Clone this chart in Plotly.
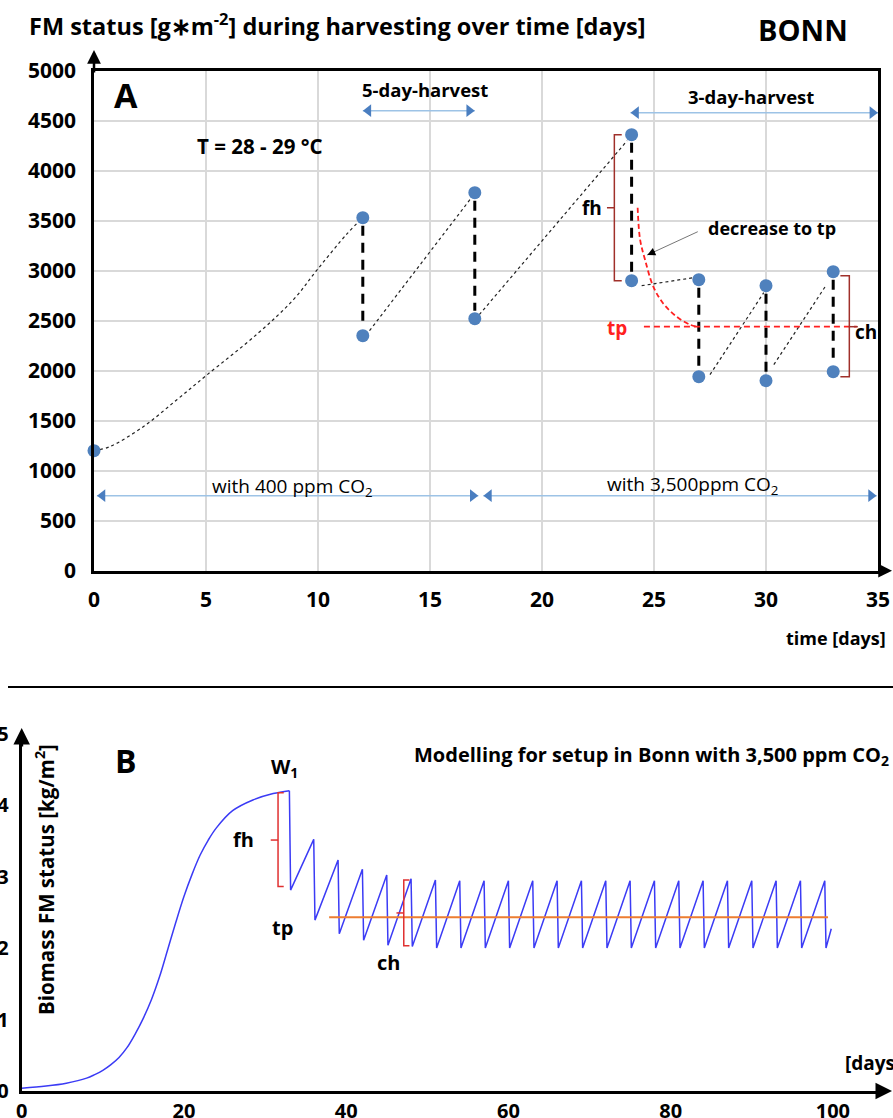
import plotly.graph_objects as go

W, H = 893, 1118


def px(x):
    return x / W


def py(y):
    return 1 - y / H


FONT = "Open Sans"

# ---------------- Panel A data (measured FM status, g/m2) ----------------
a_start_day = [0]
a_start_val = [1200]
harvest_days_a = [12, 17, 24, 27, 30, 33]
before_harvest_a = [3530, 3780, 4360, 2910, 2850, 2990]
after_harvest_a = [2350, 2520, 2900, 1940, 1900, 1990]
growth_days_a = [0, 0.7, 2.2, 3.7, 5.0, 7.3, 8.9, 10.0, 11.3, 12]
growth_vals_a = [1200, 1240, 1440, 1710, 1950, 2370, 2710, 3020, 3370, 3530]
regrow_start_day_a = [12.3, 17.2, 24.45, 27.5, 30.35]
regrow_start_val_a = [2400, 2560, 2850, 1960, 2060]
regrow_end_day_a = [16.85, 23.8, 26.75, 29.9, 32.7]
regrow_end_val_a = [3730, 4300, 2930, 2780, 2860]
tp_curve_days = [24.27, 24.38, 24.6, 24.97, 25.42, 26.01, 26.61, 26.9]
tp_curve_vals = [3630, 3310, 3110, 2840, 2670, 2540, 2460, 2440]
tp_level_a = 2440
tp_line_days = [24.55, 34.05]
# period arrows (start day, end day, level)
five_day_span = [12, 17]
three_day_span = [23.95, 35]
harvest_arrow_level = [4600, 4580]
co2_400_span = [0.13, 17.16]
co2_3500_span = [17.38, 34.94]
co2_arrow_level = 750

# ---------------- Panel B data (model, kg/m2) ----------------
growth_days_b = [0, 3, 5.5, 8, 9, 10, 11, 12, 13, 14, 15, 16, 17, 18, 19, 20, 21, 22, 23,
                 24, 26, 28.5, 31, 33]
growth_vals_b = [0.04, 0.07, 0.11, 0.18, 0.23, 0.29, 0.37, 0.47, 0.61, 0.80, 1.02, 1.28,
                 1.60, 1.98, 2.36, 2.72, 3.03, 3.30, 3.51, 3.68, 3.92, 4.07, 4.16, 4.20]
harvest_days_b = [33, 36, 39, 42, 45, 48, 51, 54, 57, 60, 63, 66, 69, 72, 75, 78,
                  81, 84, 87, 90, 93, 96, 99]
peak_vals_b = [4.20, 3.52, 3.23, 3.10, 3.02, 2.97, 2.95, 2.94, 2.94, 2.94, 2.94, 2.94,
               2.94, 2.94, 2.94, 2.94, 2.94, 2.94, 2.94, 2.94, 2.94, 2.94, 2.94]
trough_vals_b = [2.81, 2.39, 2.20, 2.11, 2.04, 2.02, 2.00, 2.00, 2.00, 2.00, 2.00, 2.00,
                 2.00, 2.00, 2.00, 2.00, 2.00, 2.00, 2.00, 2.00, 2.00, 2.00, 2.00]
end_day_b = 99.8
end_val_b = 2.27
tp_level_b = 2.43
tp_days_b = [37.9, 99.4]
fh_bracket_b = [31.6, 4.17, 2.86, 3.51]   # day, top, bottom, middle
ch_bracket_b = [47.1, 2.95, 2.03, 2.49]

fig = go.Figure()

# ---------- Panel A traces ----------
BLACK_DOT = dict(color="#222222", width=1.2, dash="dot")
fig.add_trace(go.Scatter(x=growth_days_a, y=growth_vals_a, mode="lines",
                         line=dict(shape="spline", **BLACK_DOT), xaxis="x", yaxis="y"))
for x0, y0, x1, y1 in zip(regrow_start_day_a, regrow_start_val_a, regrow_end_day_a, regrow_end_val_a):
    fig.add_trace(go.Scatter(x=[x0, x1], y=[y0, y1], mode="lines", line=BLACK_DOT,
                             xaxis="x", yaxis="y"))
for d, b, a in zip(harvest_days_a, before_harvest_a, after_harvest_a):
    fig.add_trace(go.Scatter(x=[d, d], y=[b - 80, a + 80], mode="lines",
                             line=dict(color="black", width=3, dash="10px,7px"),
                             xaxis="x", yaxis="y"))
# red tp curve
fig.add_trace(go.Scatter(x=tp_curve_days, y=tp_curve_vals, mode="lines",
                         line=dict(color="#FF2020", width=1.8, dash="5px,3px", shape="spline"),
                         xaxis="x", yaxis="y"))
fig.add_trace(go.Scatter(x=tp_line_days, y=[tp_level_a, tp_level_a], mode="lines",
                         line=dict(color="#FF2020", width=1.8, dash="6px,4px"),
                         xaxis="x", yaxis="y"))
# points
pts_x = a_start_day + harvest_days_a + harvest_days_a
pts_y = a_start_val + before_harvest_a + after_harvest_a
fig.add_trace(go.Scatter(x=pts_x, y=pts_y, mode="markers",
                         marker=dict(color="#4F81BD", size=13), xaxis="x", yaxis="y",
                         cliponaxis=False))

# blue double arrows
ARROW_LINE = "#9DC3E6"
ARROW_HEAD = "#4A7EC0"


def double_arrow(span, level, inset):
    fig.add_trace(go.Scatter(x=span, y=[level, level], mode="lines",
                             line=dict(color=ARROW_LINE, width=1.5), xaxis="x", yaxis="y",
                             cliponaxis=False))
    fig.add_trace(go.Scatter(x=[span[0] + inset, span[1] - inset], y=[level, level], mode="markers",
                             marker=dict(color=ARROW_HEAD, size=11,
                                         symbol=["triangle-left", "triangle-right"]),
                             xaxis="x", yaxis="y", cliponaxis=False))


double_arrow(five_day_span, harvest_arrow_level[0], 0.25)
double_arrow(three_day_span, harvest_arrow_level[1], 0.25)
double_arrow(co2_400_span, co2_arrow_level, 0.25)
double_arrow(co2_3500_span, co2_arrow_level, 0.25)

# brackets A (dark red)
BR = dict(color="#A0302A", width=1.5)
d_fh = 23.23
fig.add_trace(go.Scatter(x=[d_fh + 0.33, d_fh, d_fh, d_fh + 0.33],
                         y=[before_harvest_a[2], before_harvest_a[2], after_harvest_a[2], after_harvest_a[2]],
                         mode="lines", line=BR, xaxis="x", yaxis="y"))
mid_fh = (before_harvest_a[2] + after_harvest_a[2]) / 2
fig.add_trace(go.Scatter(x=[d_fh - 0.33, d_fh], y=[mid_fh, mid_fh], mode="lines", line=BR,
                         xaxis="x", yaxis="y"))
d_ch = 33.72
fig.add_trace(go.Scatter(x=[d_ch - 0.4, d_ch, d_ch, d_ch - 0.4],
                         y=[2950, 2950, 1940, 1940], mode="lines", line=BR,
                         xaxis="x", yaxis="y", cliponaxis=False))
fig.add_trace(go.Scatter(x=[d_ch, d_ch + 0.38], y=[tp_level_a, tp_level_a], mode="lines", line=BR,
                         xaxis="x", yaxis="y", cliponaxis=False))

# ---------- Panel B traces ----------
BLUE = "#3B3BF5"
fig.add_trace(go.Scatter(x=growth_days_b, y=growth_vals_b, mode="lines",
                         line=dict(color=BLUE, width=1.5, shape="spline", smoothing=1.0),
                         xaxis="x2", yaxis="y2"))
saw_x, saw_y = [], []
for d, pk, tr in zip(harvest_days_b, peak_vals_b, trough_vals_b):
    saw_x += [d, d + 0.15]
    saw_y += [pk, tr]
saw_x.append(end_day_b)
saw_y.append(end_val_b)
fig.add_trace(go.Scatter(x=saw_x, y=saw_y, mode="lines", line=dict(color=BLUE, width=1.5),
                         xaxis="x2", yaxis="y2"))
fig.add_trace(go.Scatter(x=tp_days_b, y=[tp_level_b, tp_level_b], mode="lines",
                         line=dict(color="#ED7D31", width=2), xaxis="x2", yaxis="y2"))

BRB = dict(color="#E03030", width=1.5)
for dd, top, bot, mid in [fh_bracket_b, ch_bracket_b]:
    fig.add_trace(go.Scatter(x=[dd + 0.7, dd, dd, dd + 0.7], y=[top, top, bot, bot], mode="lines",
                             line=BRB, xaxis="x2", yaxis="y2"))
    fig.add_trace(go.Scatter(x=[dd - 0.9, dd], y=[mid, mid], mode="lines", line=BRB,
                             xaxis="x2", yaxis="y2"))

# ---------- Layout ----------
tickA = dict(family=FONT, size=21, color="black", weight="bold")
tickB = dict(family=FONT, size=20, color="black", weight="bold")
fig.update_layout(
    width=W, height=H, autosize=False, showlegend=False,
    margin=dict(l=0, r=0, t=0, b=0, pad=0),
    paper_bgcolor="white", plot_bgcolor="white",
    font=dict(family=FONT, color="black"),
    xaxis=dict(domain=[px(94), px(878)], range=[0, 35], tickvals=[0, 5, 10, 15, 20, 25, 30, 35],
               showgrid=True, gridcolor="#D9D9D9", gridwidth=1.5, zeroline=False,
               showline=True, linecolor="black", linewidth=2.5, mirror=True, automargin=False,
               ticks="", tickfont=tickA, ticklabelstandoff=8, anchor="y"),
    yaxis=dict(domain=[py(570.7), py(70.7)], range=[0, 5000], tickvals=list(range(0, 5001, 500)),
               showgrid=True, gridcolor="#D9D9D9", gridwidth=1.5, zeroline=False,
               showline=True, linecolor="black", linewidth=2.5, mirror=True, automargin=False,
               ticks="", tickfont=tickA, ticklabelstandoff=11, anchor="x"),
    xaxis2=dict(domain=[px(21.7), px(884)], range=[0, 106.3], tickvals=[0, 20, 40, 60, 80, 100],
                showgrid=False, zeroline=False, showline=True, linecolor="black", linewidth=3,
                automargin=False, ticks="", tickfont=tickB, ticklabelstandoff=0, anchor="y2"),
    yaxis2=dict(domain=[py(1091), py(733.5)], range=[0, 5], tickvals=[0, 1, 2, 3, 4, 5],
                showgrid=False, zeroline=False, showline=True, linecolor="black", linewidth=3,
                automargin=False, ticks="", tickfont=tickB, ticklabelstandoff=6, anchor="x2"),
)

ann = []


def text(x, y, s, size=18, bold=True, color="black", xanchor="center", angle=0):
    ann.append(dict(x=px(x), y=py(y), xref="paper", yref="paper", text=s, showarrow=False,
                    xanchor=xanchor, yanchor="middle", textangle=angle,
                    font=dict(family=FONT, size=size, color=color,
                              weight="bold" if bold else "normal")))


def axis_arrow(x, y, dx, dy, width=2.5):
    ann.append(dict(x=px(x), y=py(y), xref="paper", yref="paper", text="", showarrow=True,
                    ax=dx, ay=dy, axref="pixel", ayref="pixel", arrowhead=2, arrowsize=1.1,
                    arrowwidth=width, arrowcolor="black"))


# Panel A texts
text(27, 24, "FM status [g\u2217m<sup>-2</sup>] during harvesting over time [days]", size=23.5,
     xanchor="left")
text(803, 30, "BONN", size=29)
text(126, 95, "A", size=34)
text(425, 90, "5-day-harvest", size=18.5)
text(751, 97, "3-day-harvest", size=18.5)
text(260, 146, "T = 28 - 29 °C", size=20.5)
text(592, 208, "fh", size=19)
text(772, 228, "decrease to tp", size=18)
text(617, 328, "tp", size=19, color="#FF2020")
text(866, 332, "ch", size=19)
text(292, 487, "with 400 ppm CO<sub>2</sub>", size=19, bold=False)
text(692, 485, "with 3,500ppm CO<sub>2</sub>", size=19, bold=False)
text(888, 638, "time [days]", size=18, xanchor="right")
# "decrease to tp" pointer: gray shaft with black head
ann.append(dict(x=24.7, y=3157, xref="x", yref="y", text="", showarrow=True, ax=52, ay=-24,
                arrowhead=0, arrowwidth=1, arrowcolor="#777777"))
ann.append(dict(x=24.7, y=3157, xref="x", yref="y", text="", showarrow=True, ax=9, ay=-4.2,
                arrowhead=2, arrowsize=1.6, arrowwidth=1, arrowcolor="black"))
axis_arrow(94, 50, 0, 24)
axis_arrow(893, 570.7, -16, 0)

# Panel B texts
text(126, 760, "B", size=32)
text(284, 768, "W<sub>1</sub>", size=20)
text(244, 839, "fh", size=20)
text(282, 927, "tp", size=20)
text(388, 962, "ch", size=20)
text(412, 755, "Modelling for setup in Bonn with 3,500 ppm CO<sub>2</sub>", size=20, xanchor="left")
text(45, 880, "Biomass FM status [kg/m<sup>2</sup>]", size=20.5, angle=-90)
text(843, 1063, "[days]", size=19, xanchor="left")
axis_arrow(21.7, 728, 0, 20, width=3)
axis_arrow(893, 1091, -14, 0, width=3)

fig.update_layout(annotations=ann,
                  shapes=[dict(type="line", xref="paper", yref="paper", x0=px(8), x1=1,
                               y0=py(687), y1=py(687), line=dict(color="black", width=2))])

fig.write_html("out.html", config={"displayModeBar": False},
               post_script="document.body.style.margin='0';"
                           "document.documentElement.style.overflow='hidden';")
